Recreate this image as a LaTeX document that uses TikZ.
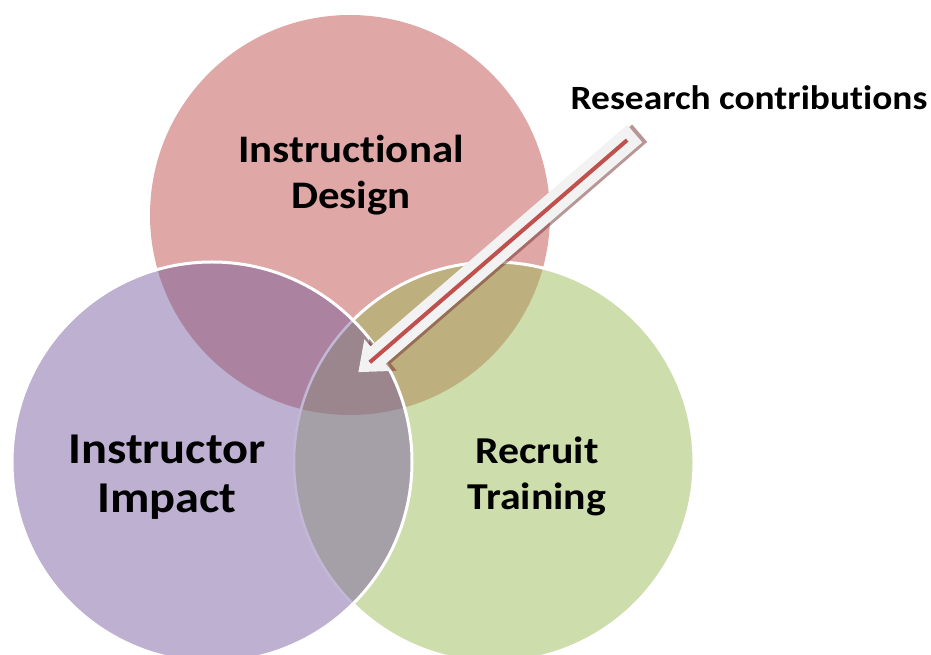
\documentclass[tikz,border=0pt]{standalone}
\usepackage{fontspec}
\setmainfont[Ligatures=NoCommon, FakeStretch=1.1]{Carlito}
\usetikzlibrary{calc}
\definecolor{vennpink}{HTML}{DFA7A6}
\definecolor{vennpurple}{HTML}{BDB0D0}
\definecolor{venngreen}{HTML}{CEDDAC}
\definecolor{vennmauve}{HTML}{AB829F}
\definecolor{vennolive}{HTML}{BDB07E}
\definecolor{vennlens}{HTML}{A59FA8}
\definecolor{venntriple}{HTML}{9C868D}
\definecolor{vennlav}{HTML}{C2B8D6}
\definecolor{arrowred}{HTML}{C0504D}
\definecolor{arrowfill}{HTML}{F2F2F2}
\definecolor{arrowshade}{RGB}{115,45,45}
\def\blockarrow{(0,0) -- (26,21) -- (26,11.5) -- (365,11.5) -- (365,-11.5) -- (26,-11.5) -- (26,-21) -- cycle}
\tikzset{
	rim/.style={line width=3pt, white},
	label/.style={font=\bfseries, align=center, text=black, inner sep=0pt},
}

\begin{document}
\begin{tikzpicture}[x=1pt, y=1pt]
		%%%%% START %%%%%
		\useasboundingbox (0,0) rectangle (931,655);
		
		% top circle and the right one
		\fill[vennpink] (350,440) circle (200);
		\fill[venngreen] (494,193) circle (200);
		\begin{scope}
			\clip (350,440) circle (200);
			\fill[vennolive] (494,193) circle (200);
		\end{scope}
		\draw[rim] (494,193) circle (200);
		
		% left circle on top
		\fill[vennpurple] (212,193) circle (200);
		\begin{scope}
			\clip (212,193) circle (200);
			\fill[vennmauve] (350,440) circle (200);
			\fill[vennlens] (494,193) circle (200);
			\clip (350,440) circle (200);
			\fill[venntriple] (494,193) circle (200);
		\end{scope}
		\begin{scope}
			\clip (212,193) circle (200);
			\draw[line width=2.5pt, vennlav] (494,193) circle (200);
		\end{scope}
		\draw[rim] (212,193) circle (200);
		
		\node[label, font=\fontsize{39}{46}\selectfont\bfseries] (design) at (351,480) {Instructional\\Design};
		\node[label, font=\fontsize{44}{49}\selectfont\bfseries] (impact) at (167,178) {Instructor\\Impact};
		\node[label, font=\fontsize{38}{46}\selectfont\bfseries] (training) at (537,179) {Recruit\\Training};
		\node[label, font=\fontsize{34}{38}\selectfont\bfseries] (research) at (749,557) {Research contributions};
		
		% block arrow
		\coordinate (tip) at (358.4,282.9);
		\begin{scope}[shift={(tip)}, rotate=40.8]
			\fill[arrowshade, opacity=0.5] [shift={(4,-3)}] \blockarrow;
			\fill[arrowfill] \blockarrow;
			\draw[arrowred, line width=4pt] (15,0) -- (355,0);
		\end{scope}
		
		%%%%% END %%%%%
\end{tikzpicture}
\end{document}
